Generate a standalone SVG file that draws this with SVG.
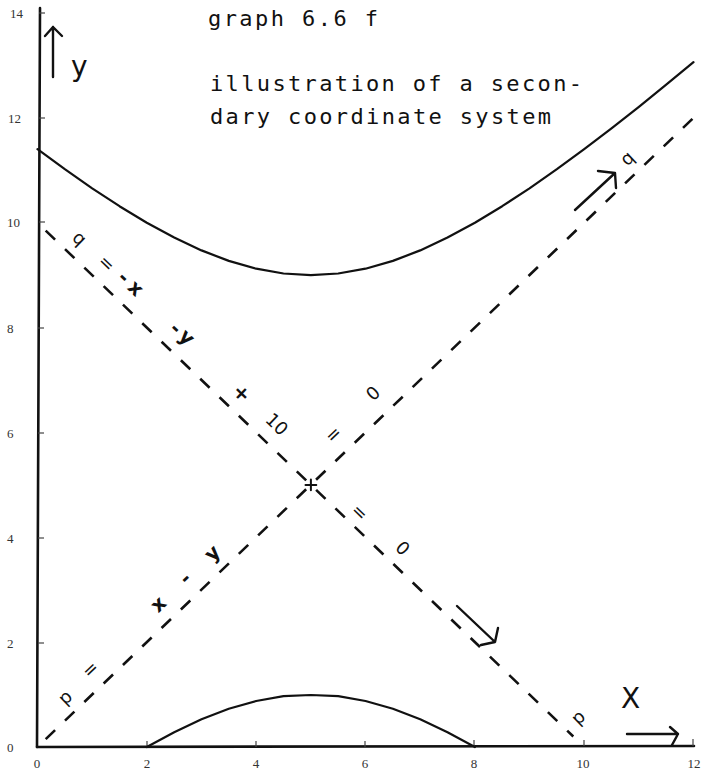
<svg xmlns="http://www.w3.org/2000/svg" width="703" height="770" viewBox="0 0 703 770">
<style>
.ax{stroke:#111;stroke-width:2.6;fill:none;stroke-linecap:round}
.tk{stroke:#444;stroke-width:1.2;fill:none}
.cv{stroke:#111;stroke-width:2.2;fill:none;stroke-linejoin:round;stroke-linecap:round}
.ds{stroke:#111;stroke-width:2.6;fill:none;stroke-dasharray:13 13.76}
.ar{stroke:#111;stroke-width:2.4;fill:none;stroke-linecap:round;stroke-linejoin:round}
.num{font-family:"Liberation Serif","DejaVu Serif",serif;font-size:13px;fill:#333}
.ttl{font-family:"DejaVu Sans Mono","Liberation Mono",monospace;font-size:22px;fill:#111}
.lb{font-family:"DejaVu Sans","Liberation Sans",sans-serif;font-size:18px;fill:#111;text-anchor:middle;dominant-baseline:central}
.bd{font-weight:bold;font-size:20px}
.big{font-family:"DejaVu Sans","Liberation Sans",sans-serif;font-size:28px;fill:#111}
</style>
<rect width="703" height="770" fill="#fff"/>
<g id="axes">
<line class="ax" x1="40" y1="8" x2="37" y2="747"/>
<line class="ax" x1="37" y1="747" x2="694" y2="746"/>
<g class="tk">
<line x1="39" y1="13" x2="45" y2="13"/><line x1="39" y1="118" x2="45" y2="118"/><line x1="39" y1="222" x2="45" y2="222"/><line x1="38" y1="328" x2="44" y2="328"/><line x1="38" y1="433" x2="44" y2="433"/><line x1="38" y1="538" x2="44" y2="538"/><line x1="38" y1="643" x2="44" y2="643"/>
<line x1="147" y1="747" x2="147" y2="741"/><line x1="256" y1="747" x2="256" y2="741"/><line x1="365" y1="747" x2="365" y2="741"/><line x1="474" y1="746" x2="474" y2="740"/><line x1="584" y1="746" x2="584" y2="740"/><line x1="693" y1="746" x2="693" y2="739"/>
</g>
<g class="num">
<text x="10" y="18">14</text><text x="8" y="123">12</text><text x="7" y="227">10</text><text x="7" y="333">8</text><text x="7" y="438">6</text><text x="7" y="543">4</text><text x="7" y="648">2</text><text x="7" y="752">0</text>
</g>
<g class="num" text-anchor="middle">
<text x="37" y="768">0</text><text x="147" y="768">2</text><text x="256" y="768">4</text><text x="365" y="768">6</text><text x="474" y="768">8</text><text x="583" y="768">10</text><text x="694" y="768">12</text>
</g>
</g>
<g id="title" class="ttl">
<text x="208" y="26" textLength="170" lengthAdjust="spacing">graph 6.6 f</text>
<text x="210" y="91" textLength="372" lengthAdjust="spacing">illustration of a secon-</text>
<text x="210" y="124" textLength="341" lengthAdjust="spacing">dary coordinate system</text>
</g>
<g id="hyperbola">
<polyline class="cv" points="37.5,149.1 64.8,169.2 92.2,188.3 119.5,206.2 146.8,222.7 174.2,237.5 201.5,250.4 228.8,260.9 256.2,268.7 283.5,273.5 310.9,275.1 338.2,273.5 365.5,268.7 392.9,260.9 420.2,250.4 447.5,237.5 474.9,222.7 502.2,206.2 529.5,188.3 556.9,169.2 584.2,149.1 611.5,128.3 638.9,106.8 666.2,84.7 693.5,62.2"/>
<polyline class="cv" points="146.8,747 174.2,732.2 201.5,719.3 228.8,708.8 256.2,701 283.5,696.2 310.9,695 338.2,696.2 365.5,701 392.9,708.8 420.2,719.3 447.5,732.2 474.9,747"/>
</g>
<g id="connectors">
<line class="ds" x1="45.7" y1="230.6" x2="573.3" y2="736.5"/>
<line class="ds" x1="45.7" y1="739.1" x2="693.5" y2="117.8"/>
<path class="ar" d="M305.5 484.9H316.3M310.9 479.5V490.3" style="stroke-width:2"/>
<path class="ar" d="M53 77V27M45 36L53 27L62 36"/>
<path class="ar" d="M627 734H678M670 727L678 734L672 745"/>
<path class="ar" d="M575 210L615 173M598 171L615 173L616 188"/>
<path class="ar" d="M457 606L495 642M498 628L495 642L481 645"/>
</g>
<g id="labels">
<text class="big" x="71" y="76">y</text>
<text class="big" x="621" y="708">X</text>
<text class="lb" transform="translate(627,158) rotate(-43.8)">q</text>
<text class="lb" transform="translate(578,717) rotate(-43.8)">p</text>
<g id="q-label">
<text class="lb" transform="translate(80,238) rotate(43.8)">q</text>
<text class="lb" transform="translate(107,263) rotate(43.8)">=</text>
<text class="lb bd" transform="translate(124,277) rotate(43.8)">-</text>
<text class="lb bd" transform="translate(136,288) rotate(43.8)">x</text>
<text class="lb bd" transform="translate(176,328) rotate(43.8)">-</text>
<text class="lb bd" transform="translate(187,337) rotate(43.8)">y</text>
<text class="lb bd" transform="translate(242,393) rotate(43.8)">+</text>
<text class="lb" transform="translate(277,424) rotate(43.8)">10</text>
<text class="lb" transform="translate(360,512) rotate(43.8)">=</text>
<text class="lb" transform="translate(403,548) rotate(43.8)">0</text>
</g>
<g id="p-label">
<text class="lb" transform="translate(65,697) rotate(-43.8)">p</text>
<text class="lb" transform="translate(90,669) rotate(-43.8)">=</text>
<text class="lb bd" transform="translate(158,604) rotate(-43.8)">x</text>
<text class="lb bd" transform="translate(185,578) rotate(-43.8)">-</text>
<text class="lb bd" transform="translate(212,553) rotate(-43.8)">y</text>
<text class="lb" transform="translate(333,434) rotate(-43.8)">=</text>
<text class="lb" transform="translate(373,393) rotate(-43.8)">0</text>
</g>
</g>
</svg>
